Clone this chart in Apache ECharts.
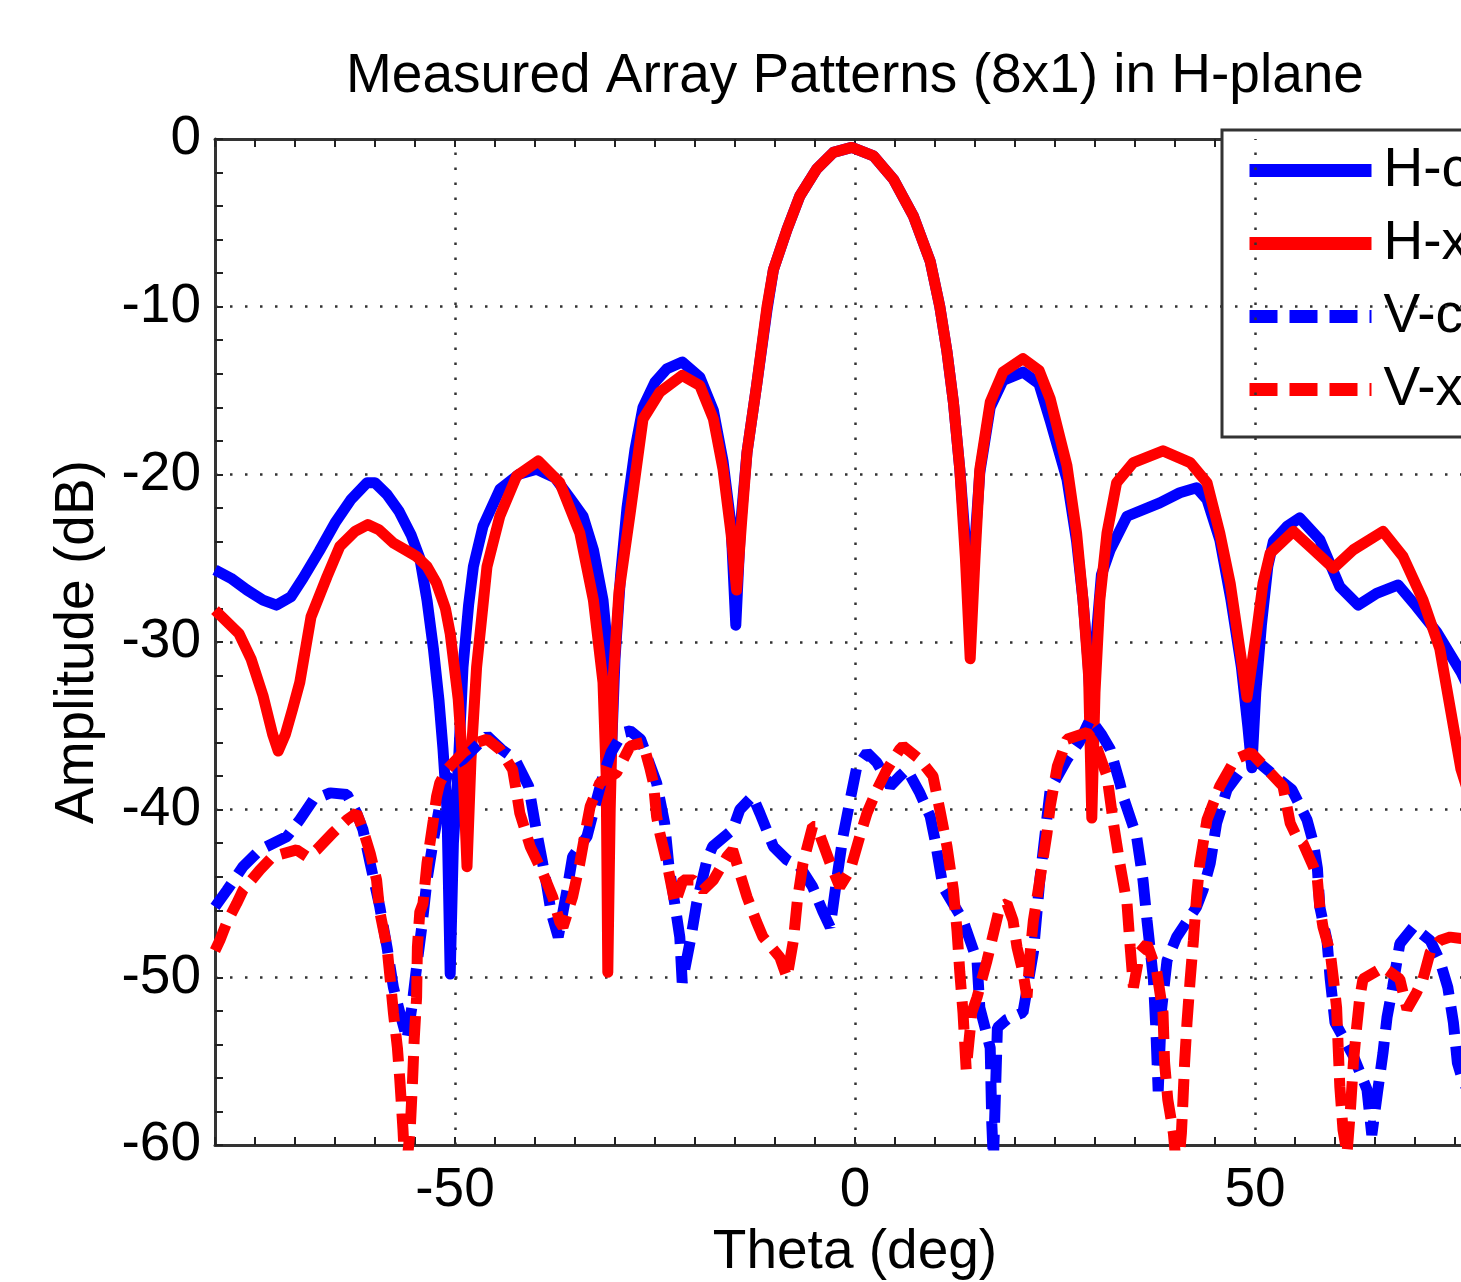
<!DOCTYPE html>
<html>
<head>
<meta charset="utf-8">
<script src="https://cdn.jsdelivr.net/npm/echarts@6/dist/echarts.min.js"></script>
<style>
html,body{margin:0;padding:0;background:#fff;overflow:hidden;}
#chart{width:1560px;height:1282px;}
</style>
</head>
<body>
<div id="chart"></div>
<script>
// ---- data ----
var titleText = 'Measured Array Patterns (8x1) in H-plane';
var xName = 'Theta (deg)';
var yName = 'Amplitude (dB)';
var seriesNames = ['H-c', 'H-x', 'V-c', 'V-x'];
var xMajorLabels = [-50, 0, 50];
var yMajorLabels = [0, -10, -20, -30, -40, -50, -60];
var xGrid = [-50, 0, 50];
var yGrid = [-10, -20, -30, -40, -50];

var hcTheta = [-80,-78,-76,-74,-72.3,-70.5,-69,-67,-65,-63,-61,-60,-58.5,-57,-55.5,-54.4,-53.5,-52.7,-52,-51.5,-51,-50.6,-50.2,-49.6,-49,-48.3,-47.7,-46.5,-44.4,-42,-39.8,-37.5,-35.5,-34,-32.7,-31.5,-30.8,-30.4,-30,-29.3,-28.5,-27.5,-26.5,-25,-23.5,-21.6,-19.4,-17.7,-16.5,-15.5,-14.9,-14.3,-13.5,-12.3,-11,-10.2,-8.5,-6.9,-4.8,-2.7,-0.4,2.3,4.8,7.3,9.4,10.6,11.5,12.3,13.1,13.8,14.4,15,15.6,16.9,18.5,21,23,24.4,26.5,27.7,28.5,29.1,29.6,30.1,30.8,31.9,34,38.1,40.6,42.7,44,45.6,47,48.3,49.1,49.6,50.1,50.8,51.6,52.3,54,55.6,58.1,60.6,62.9,65.2,67.9,70.2,72.7,75.75,78,80];
var hcAmp = [-25.7,-26.2,-26.9,-27.5,-27.8,-27.3,-26.2,-24.6,-22.9,-21.5,-20.5,-20.5,-21.2,-22.2,-23.6,-25,-27.5,-30.4,-33.5,-36.4,-40,-49.8,-42,-37.5,-31.5,-27.8,-25.5,-23.1,-20.9,-20,-19.7,-20.2,-21.5,-22.5,-24.5,-27.5,-31,-36,-31,-26,-22,-18.5,-16,-14.5,-13.7,-13.3,-14.2,-16.2,-19.2,-23,-29,-23,-18.7,-14.7,-10.2,-7.8,-5.4,-3.4,-1.8,-0.8,-0.5,-1.0,-2.4,-4.6,-7.3,-10,-12.7,-15.7,-19.7,-24,-29.8,-24,-19.9,-16,-14.4,-13.9,-14.6,-16.8,-20.3,-24,-27.5,-31,-35,-30,-26,-24.5,-22.5,-21.7,-21.1,-20.8,-21.5,-23.9,-27.5,-31.5,-35,-37.5,-33,-29,-25.5,-24,-23.1,-22.6,-23.9,-26.7,-27.8,-27.1,-26.6,-27.9,-29.4,-31.8,-34,-36];

var hxTheta = [-80,-78.5,-77,-75.5,-74,-72.8,-72.1,-71.2,-70.3,-69.4,-68,-66,-64.4,-62.5,-60.9,-59.5,-57.7,-55.5,-54.8,-53.5,-52.3,-51.2,-50.6,-49.6,-49,-48.5,-48,-47.3,-46,-44.4,-42.3,-39.6,-36.9,-34.4,-32.7,-31.5,-31.1,-30.9,-30.6,-30.2,-29.5,-28.1,-27.3,-26.5,-24.4,-21.6,-19.4,-17.7,-16.5,-15.5,-14.8,-14.2,-13.5,-12.3,-11,-10.2,-8.5,-6.9,-4.8,-2.7,-0.4,2.3,4.8,7.3,9.4,10.6,11.5,12.3,13.1,13.8,14.4,15,15.6,16.9,18.5,21,23,24.4,26.5,27.7,28.5,29.2,29.6,30,30.6,31.5,32.7,34.8,38.5,41.9,44,45.6,46.9,48.1,49,50.2,51,51.9,54.8,57.3,59.8,62.3,66,68.5,71,73.1,75.75,78,80];
var hxAmp = [-28.1,-28.8,-29.5,-31,-33.2,-35.5,-36.5,-35.5,-34,-32.4,-28.5,-26.1,-24.3,-23.4,-23.0,-23.3,-24.1,-24.7,-24.9,-25.5,-26.5,-28,-29.5,-33.4,-37.5,-43.4,-37,-31.5,-25.5,-22.5,-20.1,-19.2,-20.5,-23.5,-27.5,-32.4,-38,-49.7,-40,-32,-27,-22.3,-19.5,-16.7,-15.1,-14.1,-14.7,-16.7,-19.7,-23.5,-26.9,-23,-18.7,-14.7,-10,-7.8,-5.4,-3.4,-1.8,-0.8,-0.5,-1.0,-2.4,-4.6,-7.3,-10,-12.7,-15.7,-19.7,-25,-31,-25,-19.7,-15.7,-13.9,-13.1,-13.8,-15.5,-19.5,-23.5,-27.5,-32,-40.5,-33,-27.5,-23.5,-20.5,-19.3,-18.6,-19.3,-20.5,-23.5,-26.5,-30.4,-33.3,-29.4,-26.5,-24.7,-23.4,-24.5,-25.6,-24.5,-23.4,-24.9,-27.5,-30.4,-37.6,-41,-44];

var vcTheta = [-80,-78.5,-76.5,-74.4,-71,-69.4,-67.7,-65.6,-63.5,-62.3,-61.5,-60.6,-59.4,-58.5,-57.7,-56.9,-56,-55.4,-54.8,-54.1,-53.5,-52.7,-52,-51,-50,-49,-47.5,-46,-44.2,-42.5,-40.8,-40,-39.2,-38.5,-38,-37.1,-36,-35.3,-33.5,-32.3,-31.5,-30.5,-29,-28.1,-26.8,-24.8,-23.8,-23.3,-21.9,-21.6,-20.5,-19.8,-18.5,-17.8,-15.3,-14.4,-12.8,-11.9,-10.2,-8.5,-6.9,-5.3,-4,-3.1,-2.3,-1.5,-0.6,0.2,1.5,2.75,4.4,5.6,6.5,8.1,9.4,10,11,13.5,15.25,15.6,16.9,17.1,17.3,17.8,19,21,22.3,23.1,24.4,26.5,28,29.4,30.8,31.9,33.1,33.5,35.2,36,36.5,37.3,37.6,37.9,38.3,39,40.2,42.7,43.5,44.4,45.2,46.5,48.5,50.5,52,54.6,56.5,57.3,57.8,58.1,59,59.4,60,62.3,64,64.6,65.3,66,66.5,67.2,68.1,69.8,71.9,73.1,74.1,74.8,75.3,76,78,80];
var vcAmp = [-45.8,-44.8,-43.4,-42.4,-41.6,-40.6,-39.4,-39.0,-39.1,-40.2,-41.2,-43.2,-45.8,-48.2,-50.6,-52.1,-53.7,-51.8,-49.4,-46.8,-44.2,-41.8,-40,-38,-37.3,-37,-36.3,-35.6,-36.4,-37,-38.6,-40.8,-42.8,-44.6,-46.1,-47.6,-44.8,-42.8,-41.6,-39.4,-38,-36.6,-35.4,-35.3,-35.8,-38.4,-40.8,-43.2,-47.6,-50.3,-47.6,-45.6,-43,-42.2,-41.2,-40,-39.2,-40.2,-42.2,-43,-43.4,-44.6,-46.1,-47,-44.2,-41.6,-39.4,-37.5,-36.6,-37.2,-38.6,-38,-37.6,-39,-40.4,-41.8,-44.6,-46.6,-49,-51.8,-54.2,-58.7,-61,-53,-52.5,-52.1,-48.5,-44.2,-38.8,-37,-36,-34.6,-35.5,-36.4,-38.4,-39.2,-41.6,-44.2,-46.6,-50.1,-53,-56.8,-52,-49,-47.6,-45.8,-44.8,-43.2,-40.8,-38.8,-37.5,-37.2,-37.8,-38.8,-40.6,-42,-43.5,-45.8,-47.8,-50.1,-52.7,-54.7,-56.7,-59.4,-56.9,-54.5,-52.4,-50.6,-48,-47,-47.8,-49,-50.6,-52.7,-55.1,-56.2,-58,-59];

var vxTheta = [-80,-79.4,-78.5,-77.3,-76.5,-74.4,-72.8,-69.8,-68.5,-67.3,-65.3,-63.5,-62.3,-61.5,-60.6,-59.8,-59.4,-58.5,-58.1,-57.7,-57.2,-56.9,-56.5,-56.2,-55.6,-55.3,-55.1,-54.8,-54.7,-54.4,-54,-53.5,-52.7,-52.3,-51.9,-51,-49,-47.3,-46,-44.4,-42.8,-42.3,-41.9,-40.6,-39,-37.8,-36.9,-36.5,-35.3,-34.4,-33.5,-33.1,-31.9,-29.8,-28.1,-26.5,-25.6,-25.2,-24.8,-24.4,-23.5,-22.5,-21.5,-20.2,-19,-17.7,-16,-15.3,-14.4,-13.5,-12.3,-11.5,-9.4,-8.5,-7.7,-7.2,-6.5,-5.3,-4.8,-3.1,-1.9,-0.6,0.6,1.5,2.75,4,5.6,6,8.1,9.75,10.6,11.5,12.3,12.75,13.1,13.5,13.9,14.6,15.25,16.5,18.1,19,19.75,20.25,21,21.5,21.9,22.3,23.1,24,24.4,25.3,26.5,29,30,31.5,32.3,33.1,34,34.4,34.8,35.6,36.5,37.7,38.5,38.7,39.1,39.8,40.3,40.8,41,41.2,41.5,41.9,42.3,42.7,43.1,44,45.6,47.5,49.5,51.5,53.5,54.4,55.2,56,57.3,57.8,58.1,58.5,59.4,59.8,60.2,60.4,60.6,61,61.5,61.9,62.3,62.7,63.1,63.5,66,68.1,69,70.2,71,71.9,73.1,74.4,76,78,80];
var vxAmp = [-48.4,-47.8,-46.7,-45.6,-44.8,-43.6,-42.8,-42.4,-42.8,-42.4,-41.4,-40.6,-40.2,-41.2,-42.6,-44.2,-46.1,-48.2,-50.1,-52.1,-54.2,-56.1,-59.1,-62,-59.1,-56.1,-53.7,-51.2,-48.2,-46.1,-45.6,-43.2,-40.6,-39.2,-38.4,-37.6,-36.6,-36,-35.8,-36.4,-37.6,-39,-40.2,-42.2,-43.8,-45.2,-46.7,-47,-45.2,-43.2,-40.8,-39.8,-38.4,-37.8,-36.2,-36,-37.6,-38.4,-40.4,-41.4,-43.2,-45.6,-44.2,-44.2,-44.8,-44.2,-42.8,-42.4,-43.8,-45.2,-46.7,-47.6,-48.8,-50,-47.8,-45.4,-43.2,-41,-41,-43.2,-44.6,-43.6,-41.6,-40.2,-38.8,-37.6,-36.4,-36.2,-37,-38,-40,-42.2,-44.8,-47.2,-49.7,-52.1,-55.5,-52.1,-51.2,-49,-45.8,-45.6,-46.6,-48.2,-49.7,-51.2,-48.5,-46.6,-44.2,-41.4,-39.8,-37.4,-35.8,-35.4,-36,-38,-40.8,-43.2,-45.6,-48.2,-50.6,-48.5,-48,-49.6,-52.1,-55.1,-57.3,-59.3,-62,-59.3,-57.3,-55.1,-52.7,-50.1,-47.8,-45.2,-43.2,-40.6,-38.6,-37,-36.6,-37.6,-38.6,-40.8,-41.6,-42,-43.4,-44.2,-45.8,-47,-48.5,-50.1,-51.8,-54.2,-56.5,-59.1,-60.5,-58.1,-55.1,-53,-51.2,-50.1,-49.4,-50.1,-51.9,-50.9,-50.1,-48.5,-47.8,-47.6,-47.7,-48,-48.3];

// ---- chart ----
function pairs(xs, ys) { return xs.map(function (x, i) { return [x, ys[i]]; }); }
var FONT = 'Liberation Sans, Arial, Helvetica, sans-serif';
var BLUE = '#0000ff', RED = '#ff0000';
var LW = 11;
var DASH = [28, 12];

var chart = echarts.init(document.getElementById('chart'), null, {renderer: 'canvas'});

var axisLineStyle = {color: '#333', width: 3};
var tickStyle = {color: '#222', width: 2};

var gridMarks = xGrid.map(function (v) { return {xAxis: v}; })
  .concat(yGrid.map(function (v) { return {yAxis: v}; }));

var option = {
  backgroundColor: '#fff',
  animation: false,
  title: {
    text: titleText,
    left: 341,
    top: 44,
    textStyle: {fontFamily: FONT, fontSize: 55, fontWeight: 'normal', color: '#000'}
  },
  grid: {left: 215, top: 139, width: 1280, height: 1006, containLabel: false, outerBoundsMode: 'none'},
  legend: {
    data: seriesNames,
    orient: 'vertical',
    left: 1222,
    top: 130,
    itemWidth: 122,
    itemHeight: 14,
    itemGap: 18,
    padding: [13, 60, 20, 21],
    borderColor: '#333',
    borderWidth: 3,
    backgroundColor: '#fff',
    itemStyle: {opacity: 0},
    lineStyle: {width: 13},
    textStyle: {fontFamily: FONT, fontSize: 55, color: '#000', padding: [0, 0, 0, 7]}
  },
  xAxis: [{
    type: 'value', position: 'bottom', min: -80, max: 80, interval: 5,
    name: xName, nameLocation: 'middle', nameGap: 80,
    nameTextStyle: {fontFamily: FONT, fontSize: 55, color: '#000'},
    axisLine: {show: true, onZero: false, lineStyle: axisLineStyle},
    axisTick: {show: true, inside: true, length: 8, lineStyle: tickStyle},
    axisLabel: {
      fontFamily: FONT, fontSize: 55, color: '#000', margin: 18,
      formatter: function (v) { return xMajorLabels.indexOf(v) >= 0 ? String(v) : ''; }
    },
    splitLine: {show: false}
  }, {
    type: 'value', position: 'top', min: -80, max: 80, interval: 5,
    axisLine: {show: true, onZero: false, lineStyle: axisLineStyle},
    axisTick: {show: true, inside: true, length: 8, lineStyle: tickStyle},
    axisLabel: {show: false},
    splitLine: {show: false}
  }],
  yAxis: [{
    type: 'value', position: 'left', min: -60, max: 0, interval: 2,
    name: yName, nameLocation: 'middle', nameGap: 110, nameRotate: 90,
    nameTextStyle: {fontFamily: FONT, fontSize: 55, color: '#000'},
    axisLine: {show: true, onZero: false, lineStyle: axisLineStyle},
    axisTick: {show: true, inside: true, length: 8, lineStyle: tickStyle},
    axisLabel: {
      fontFamily: FONT, fontSize: 55, color: '#000', margin: 14,
      formatter: function (v) { return yMajorLabels.indexOf(v) >= 0 ? String(v) : ''; }
    },
    splitLine: {show: false}
  }, {
    type: 'value', position: 'right', min: -60, max: 0, interval: 2,
    axisLine: {show: true, onZero: false, lineStyle: axisLineStyle},
    axisTick: {show: true, inside: true, length: 8, lineStyle: tickStyle},
    axisLabel: {show: false},
    splitLine: {show: false}
  }],
  series: [{
    name: seriesNames[0], type: 'line', z: 10, symbol: 'none', showSymbol: false,
    data: pairs(hcTheta, hcAmp),
    lineStyle: {color: BLUE, width: LW, type: 'solid', join: 'round'},
    itemStyle: {color: BLUE},
    markLine: {
      silent: true, symbol: 'none', label: {show: false}, animation: false,
      lineStyle: {color: '#333', width: 2.5, type: [2.5, 12.5]},
      data: gridMarks
    }
  }, {
    name: seriesNames[1], type: 'line', z: 11, symbol: 'none', showSymbol: false,
    data: pairs(hxTheta, hxAmp),
    lineStyle: {color: RED, width: LW, type: 'solid', join: 'round'},
    itemStyle: {color: RED}
  }, {
    name: seriesNames[2], type: 'line', z: 12, symbol: 'none', showSymbol: false,
    data: pairs(vcTheta, vcAmp),
    lineStyle: {color: BLUE, width: LW, type: DASH, cap: 'butt'},
    itemStyle: {color: BLUE}
  }, {
    name: seriesNames[3], type: 'line', z: 13, symbol: 'none', showSymbol: false,
    data: pairs(vxTheta, vxAmp),
    lineStyle: {color: RED, width: LW, type: DASH, cap: 'butt'},
    itemStyle: {color: RED}
  }]
};
chart.setOption(option);
</script>
</body>
</html>
